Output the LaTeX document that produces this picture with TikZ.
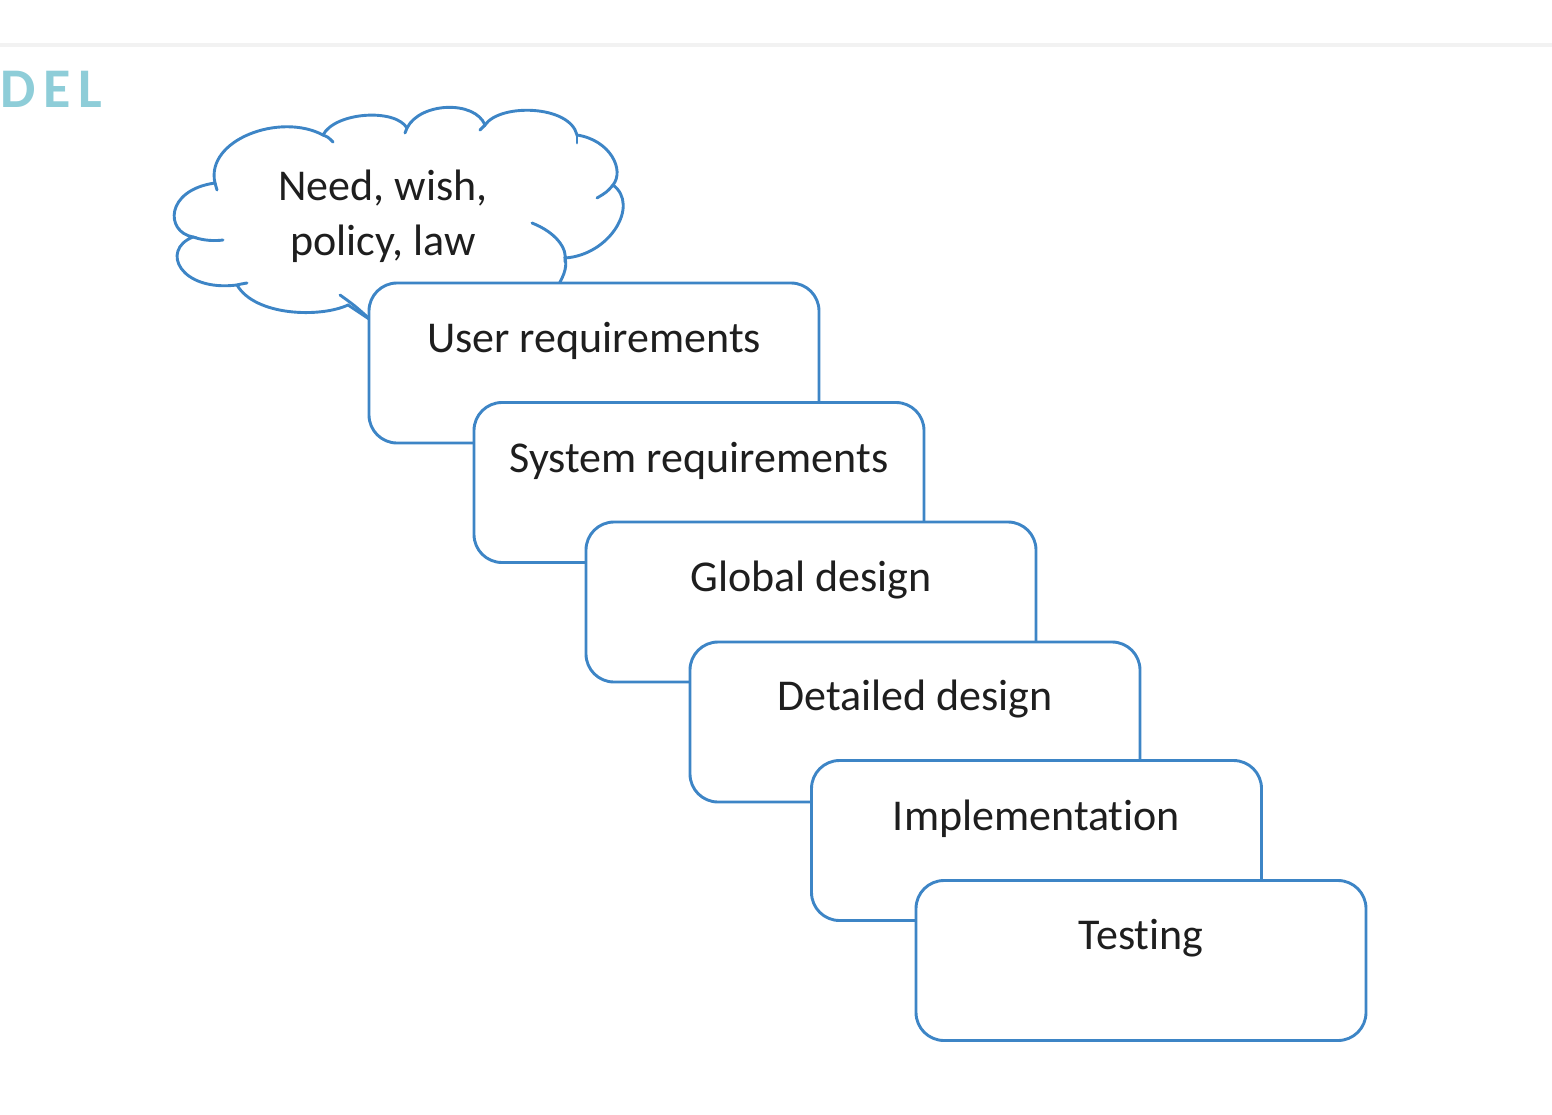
\documentclass[tikz,border=0pt]{standalone}
\usepackage{fontspec}
\setmainfont[Ligatures=NoCommon]{Carlito}
\newfontfamily\delfont[LetterSpace=14]{Carlito}
\definecolor{boxblue}{RGB}{61,133,198}
\definecolor{txt}{RGB}{30,30,30}
\definecolor{teal}{RGB}{142,205,216}
\begin{document}
\begin{tikzpicture}[x=1pt,y=-1pt,
  stagebox/.style={draw=boxblue,line width=2.9pt,fill=white,rounded corners=28pt,minimum width=450pt,minimum height=160pt,inner sep=0pt},
  lbl/.style={font=\fontsize{44}{53}\selectfont,text=txt,anchor=base,inner sep=0pt},
  cloudline/.style={draw=boxblue,line width=2.9pt,line cap=round}]
\path[use as bounding box] (0,0) rectangle (1552,1114);
\draw[gray!10,line width=4pt] (0,45) -- (1552,45);
\node[anchor=base west,inner sep=0pt,text=teal,font=\delfont\bfseries\fontsize{56}{60}\selectfont] (del) at (0,107) {DEL};
% cloud
\path[cloudline,fill=white] (215,183)
  .. controls (205,140) and (280,112) .. (323,135)
  .. controls (335,112) and (395,108) .. (407,128)
  .. controls (420,102) and (475,100) .. (485,125)
  .. controls (500,103) and (570,105) .. (577,135)
  .. controls (610,140) and (625,170) .. (613,185)
  .. controls (640,205) and (610,255) .. (565,258)
  .. controls (568,268) and (562,280) .. (555,290)
  -- (380,318) -- (372,321) -- (348,305)
  .. controls (320,318) and (255,316) .. (237,285)
  .. controls (180,292) and (160,250) .. (193,237)
  .. controls (165,232) and (165,190) .. (215,183) -- cycle;
\draw[cloudline] (193,237) .. controls (205,241) and (215,241) .. (223,240);
\draw[cloudline] (237,285) .. controls (241,284) .. (247,283);
\draw[cloudline] (340,295) .. controls (354,305) .. (372,321);
\draw[cloudline] (323,135) .. controls (328,137) .. (333,142);
\draw[cloudline] (215,183) -- (217,190);
\draw[cloudline] (577,135) -- (577,143);
\draw[cloudline] (613,185) .. controls (607,192) .. (597,198);
\draw[cloudline] (532,223) .. controls (555,232) and (568,248) .. (565,262);
\draw[cloudline] (485,125) -- (480,130);
\draw[cloudline] (407,128) -- (405,133);
\node[lbl] (need1) at (383,200) {Need, wish,};
\node[lbl] (need2) at (383,255) {policy, law};
% stages
\node[stagebox] (b1) at (594,363) {};
\node[lbl] (t1) at (594,352) {User requirements};
\node[stagebox] (b2) at (699,482.5) {};
\node[lbl] (t2) at (699,472) {System requirements};
\node[stagebox] (b3) at (811,602) {};
\node[lbl] (t3) at (811,591) {Global design};
\node[stagebox] (b4) at (915,722) {};
\node[lbl] (t4) at (915,710) {Detailed design};
\node[stagebox] (b5) at (1036.5,840.5) {};
\node[lbl] (t5) at (1036.5,830) {Implementation};
\node[stagebox] (b6) at (1141,960.5) {};
\node[lbl] (t6) at (1141,949) {Testing};
\end{tikzpicture}
\end{document}
